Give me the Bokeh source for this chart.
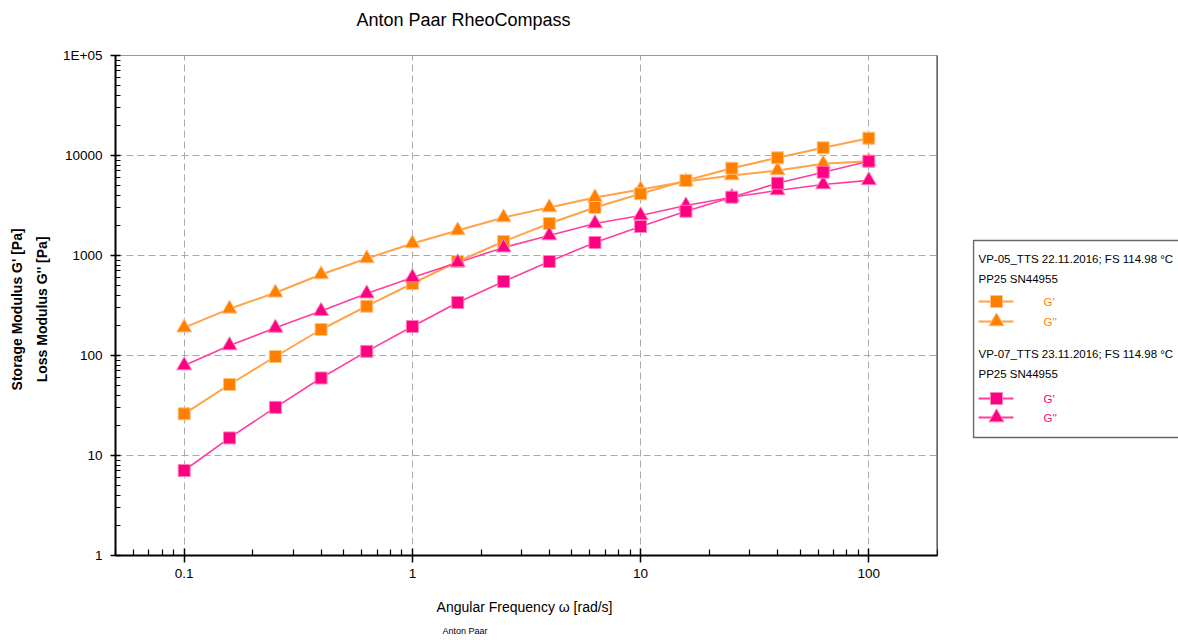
from bokeh.plotting import figure
from bokeh.layouts import row
from bokeh.models import (FixedTicker, CustomJSTickFormatter, Label, Span, Range1d, Title)
from bokeh.embed import file_html
from bokeh.resources import INLINE

FONT = "Liberation Sans"

freq = [0.1, 0.158, 0.251, 0.398, 0.631, 1, 1.58, 2.51, 3.98, 6.31,
        10, 15.8, 25.1, 39.8, 63.1, 100]
vp05_gp = [26.1, 51.3, 97.7, 182, 311, 525, 871, 1380, 2090, 3020,
           4140, 5620, 7470, 9480, 11940, 14900]
vp05_gpp = [190, 293, 424, 646, 933, 1318, 1778, 2400, 3020, 3800,
            4570, 5500, 6310, 7080, 8260, 8770]
vp07_gp = [7.08, 15.0, 30.3, 59.6, 110, 195, 339, 550, 871, 1350,
           1950, 2770, 3830, 5290, 6810, 8770]
vp07_gpp = [79.4, 126, 189, 278, 416, 603, 851, 1200, 1585, 2090,
            2510, 3160, 3830, 4470, 5130, 5640]

x_major = [0.1, 1, 10, 100]
x_minor = [0.05, 0.06, 0.07, 0.08, 0.09, 0.2, 0.3, 0.4, 0.5, 0.6, 0.7, 0.8, 0.9,
           2, 3, 4, 5, 6, 7, 8, 9, 20, 30, 40, 50, 60, 70, 80, 90, 200]
y_major = [1, 10, 100, 1000, 10000, 100000]
y_minor = [m * d for d in [1, 10, 100, 1000, 10000] for m in range(2, 10)]

title_text = "Anton Paar RheoCompass\n "
xlabel = "Angular Frequency \u03c9  [rad/s]"
ylabel = "Storage Modulus  G'  [Pa]\nLoss Modulus  G''  [Pa]"
footer = "Anton Paar"
leg_head1 = "VP-05_TTS 22.11.2016; FS 114.98 \u00b0C"
leg_head2 = "VP-07_TTS 23.11.2016; FS 114.98 \u00b0C"
leg_sub = "PP25 SN44955"

ORANGE = "#FF8000"
ORANGE_L = "#FFA347"
PINK = "#FF0080"
PINK_L = "#FF3D9E"

W_MAIN = 972
H = 643
FL, FR, FT, FB = 115, 937, 55, 555

p = figure(width=W_MAIN, height=H, x_axis_type="log", y_axis_type="log",
           x_range=(0.05, 200), y_range=(1, 100000),
           output_backend="svg", toolbar_location=None,
           min_border_left=FL, min_border_right=W_MAIN - FR,
           min_border_top=FT, min_border_bottom=H - FB)
p.outline_line_color = "#999999"
p.outline_line_width = 1

p.title.text = title_text
p.title.align = "left"
p.title.offset = 241
p.title.standoff = 4
p.title.vertical_align = "bottom"
p.title.text_line_height = 1.2
p.title.text_font = FONT
p.title.text_font_size = "18px"
p.title.text_font_style = "normal"
p.title.text_color = "black"

xa = p.xaxis[0]
xa.ticker = FixedTicker(ticks=x_major, minor_ticks=x_minor)
xa.formatter = CustomJSTickFormatter(code="return tick < 1 ? tick.toFixed(1) : tick.toFixed(0);")
ya = p.yaxis[0]
ya.ticker = FixedTicker(ticks=y_major, minor_ticks=y_minor)
ya.formatter = CustomJSTickFormatter(code="return tick >= 100000 ? '1E+05' : tick.toFixed(0);")

for ax in (xa, ya):
    ax.axis_line_width = 2
    ax.axis_line_color = "black"
    ax.major_tick_line_color = "black"
    ax.minor_tick_line_color = "black"
    ax.major_tick_line_width = 1.5
    ax.minor_tick_line_width = 1.2
    ax.major_label_text_font = FONT
    ax.major_label_text_font_size = "13.5px"
    ax.major_label_text_color = "black"
    ax.axis_label_text_font = FONT
    ax.axis_label_text_color = "black"
xa.major_tick_in = 7
xa.major_tick_out = 7
xa.minor_tick_in = 6
xa.minor_tick_out = 0
xa.major_label_standoff = 6
xa.axis_label = xlabel
xa.axis_label_text_font_size = "14px"
xa.axis_label_text_font_style = "normal"
xa.axis_label_standoff = 18
ya.major_tick_in = 5
ya.major_tick_out = 5
ya.minor_tick_in = 5
ya.minor_tick_out = 0
ya.major_label_standoff = 8
ya.axis_label = ylabel
ya.axis_label_text_font_size = "14px"
ya.axis_label_text_font_style = "bold"
ya.axis_label_text_line_height = 1.55
ya.axis_label_standoff = 10

for g in (p.xgrid[0], p.ygrid[0]):
    g.grid_line_color = "#aaaaaa"
    g.grid_line_dash = "7 4"
    g.grid_line_width = 1

p.add_layout(Span(location=200, dimension="height", line_color="#333333", line_width=2))

p.add_layout(Title(text=footer, align="left", offset=442 - FL, text_font=FONT,
                   text_font_size="9px", text_font_style="normal", text_color="black",
                   standoff=13), "below")

# series
p.line(freq, vp05_gp, line_color=ORANGE_L, line_width=2)
p.line(freq, vp05_gpp, line_color=ORANGE_L, line_width=2)
p.line(freq, vp07_gp, line_color=PINK_L, line_width=1.6)
p.line(freq, vp07_gpp, line_color=PINK_L, line_width=1.6)
p.scatter(freq, vp05_gpp, marker="triangle", size=15, fill_color=ORANGE,
          line_color="#FFC080", line_width=1)
p.scatter(freq, vp05_gp, marker="square", size=12, fill_color=ORANGE,
          line_color="#FFC080", line_width=1)
p.scatter(freq, vp07_gpp, marker="triangle", size=15, fill_color=PINK,
          line_color="#FF80C0", line_width=1)
p.scatter(freq, vp07_gp, marker="square", size=12, fill_color=PINK,
          line_color="#FF80C0", line_width=1)

# legend panel (its frame is aligned with the main frame: canvas y 55..555)
lg = figure(width=1178 - W_MAIN, height=H, x_range=Range1d(0, 1178 - W_MAIN),
            y_range=Range1d(FB, FT), output_backend="svg", toolbar_location=None,
            min_border_left=0, min_border_right=0,
            min_border_top=FT, min_border_bottom=H - FB)
lg.axis.visible = False
lg.grid.visible = False
lg.outline_line_color = None
lg.quad(left=[1], right=[260], top=[240], bottom=[437], fill_color=None,
        line_color="#666666", line_width=1.5)

def head(text, y):
    lg.add_layout(Label(x=6, y=y, text=text, text_font=FONT, text_font_size="11.5px",
                        text_baseline="middle", text_color="black"))

def item(y, col, lcol, ocol, marker, size, label):
    lg.segment(x0=[6], y0=[y], x1=[41], y1=[y], line_color=lcol, line_width=2)
    lg.scatter([24], [y], marker=marker, size=size, fill_color=col, line_color=ocol)
    lg.add_layout(Label(x=71, y=y, text=label, text_font=FONT, text_font_size="11.5px",
                        text_baseline="middle", text_color=col))

head(leg_head1, 258)
head(leg_sub, 278)
item(301, ORANGE, ORANGE_L, "#FFC080", "square", 12, "G'")
item(321, ORANGE, ORANGE_L, "#FFC080", "triangle", 15, "G''")
head(leg_head2, 353)
head(leg_sub, 373)
item(398, PINK, PINK_L, "#FF80C0", "square", 12, "G'")
item(417, PINK, PINK_L, "#FF80C0", "triangle", 15, "G''")

layout = row(p, lg, spacing=0)
open("out.html", "w").write(file_html(layout, INLINE))
